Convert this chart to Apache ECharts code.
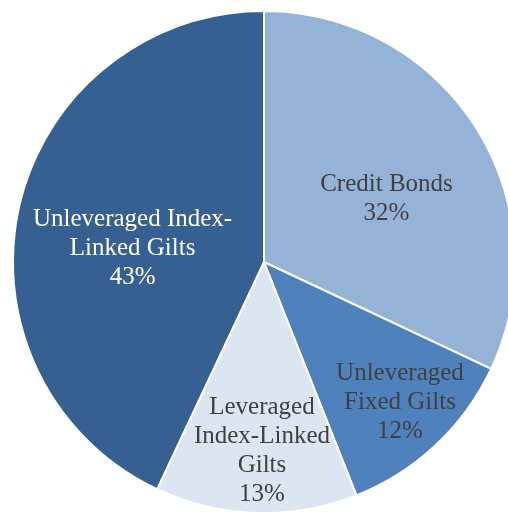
<!DOCTYPE html>
<html>
<head>
<meta charset="utf-8">
<script src="https://cdn.jsdelivr.net/npm/echarts@6/dist/echarts.min.js"></script>
<style>
  html, body { margin: 0; padding: 0; background: #ffffff; }
  #chart { width: 508px; height: 513px; }
</style>
</head>
<body>
<div id="chart"></div>
<script>
// Portfolio allocation by asset type (percent), clockwise from 12 o'clock
const categories = [
  'Credit Bonds',
  'Unleveraged\nFixed Gilts',
  'Leveraged\nIndex-Linked\nGilts',
  'Unleveraged Index-\nLinked Gilts'
];
const shares = [32, 12, 13, 43];

// Slice styling, in the same order as the categories
const sliceColors = ['#95b3d7', '#4f81bd', '#dce6f2', '#376092'];
const labelColors = ['#404040', '#404040', '#404040', '#ffffff'];
const labelOffsets = [[14, 6], [48, 47], [2, 61], [-6, 14]];

const chart = echarts.init(document.getElementById('chart'), null, { renderer: 'canvas' });

chart.setOption({
  animation: false,
  backgroundColor: '#ffffff',
  series: [{
    type: 'pie',
    center: [264, 262],
    radius: [0, 251],
    startAngle: 90,
    clockwise: true,
    avoidLabelOverlap: false,
    labelLine: { show: false },
    itemStyle: { borderColor: '#ffffff', borderWidth: 2 },
    label: {
      show: true,
      position: 'inside',
      fontFamily: 'Liberation Serif, Times New Roman, serif',
      fontSize: 25,
      lineHeight: 29,
      align: 'center',
      formatter: p => p.name + '\n' + p.value + '%'
    },
    emphasis: { disabled: true },
    data: categories.map((name, i) => ({
      name,
      value: shares[i],
      itemStyle: { color: sliceColors[i] },
      label: { color: labelColors[i], offset: labelOffsets[i] }
    }))
  }]
});
</script>
</body>
</html>
